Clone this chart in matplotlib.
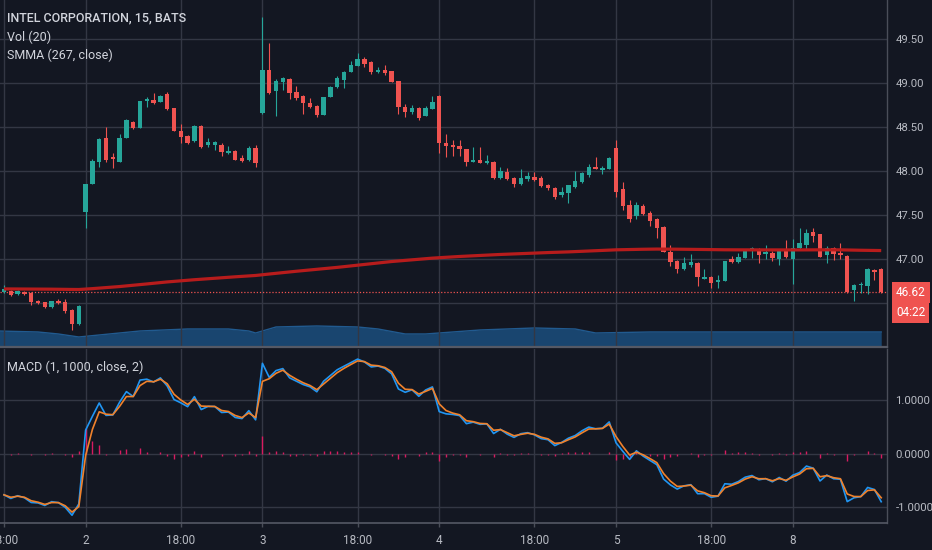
import numpy as np
import matplotlib
matplotlib.use('Agg')
import matplotlib.pyplot as plt
from matplotlib import transforms

plt.rcParams['font.family'] = ['Roboto', 'DejaVu Sans']

# ---------------- data (15-min bars, INTC) ----------------
opens = [46.63, 46.64, 46.60, 46.61, 46.61, 46.52, 46.51, 46.45, 46.52, 46.51, 46.42, 46.26,
         47.53, 47.85, 48.10, 48.38, 48.16, 48.10, 48.38, 48.56, 48.49, 48.80, 48.81, 48.78, 48.88,
         48.72, 48.45, 48.40, 48.34, 48.51, 48.30, 48.30, 48.30, 48.20, 48.23, 48.15, 48.13, 48.26,
         48.66, 49.15, 48.91, 49.01, 49.05, 48.90, 48.85, 48.77, 48.74, 48.64, 48.84, 48.95, 49.03,
         49.13, 49.19, 49.27, 49.24, 49.13, 49.15, 49.14, 49.02, 48.73, 48.67, 48.72, 48.63, 48.70,
         48.85, 48.32, 48.30, 48.28, 48.25, 48.10, 48.13, 48.09, 48.10, 47.92, 47.99, 47.92, 47.85,
         47.91, 47.93, 47.92, 47.84, 47.81, 47.73, 47.75, 47.82, 47.88, 47.95, 48.05, 48.01, 48.02,
         48.26, 47.80, 47.61, 47.49, 47.60, 47.52, 47.45, 47.36, 47.08, 46.98, 46.89, 46.93, 46.95,
         46.77, 46.80, 46.74, 46.75, 47.00, 46.97, 47.01, 47.10, 47.11, 47.06, 47.07, 47.00, 47.09,
         47.00, 47.13, 47.16, 47.31, 47.28, 47.05, 47.13, 47.07, 47.03, 46.65, 46.70, 46.69, 46.88, 46.89]
highs = [46.70, 46.65, 46.65, 46.64, 46.63, 46.53, 46.51, 46.52, 46.55, 46.55, 46.43, 46.48,
         47.85, 48.14, 48.38, 48.50, 48.20, 48.42, 48.59, 48.57, 48.80, 48.84, 48.89, 48.86, 48.90,
         48.72, 48.53, 48.41, 48.52, 48.52, 48.38, 48.34, 48.32, 48.28, 48.24, 48.18, 48.28, 48.30,
         49.75, 49.45, 49.05, 49.07, 49.06, 48.97, 48.86, 48.83, 48.75, 48.84, 48.97, 49.08, 49.14,
         49.25, 49.34, 49.30, 49.25, 49.18, 49.20, 49.14, 49.02, 48.76, 48.75, 48.73, 48.74, 48.85,
         48.86, 48.42, 48.35, 48.35, 48.25, 48.27, 48.27, 48.18, 48.11, 48.05, 48.03, 47.93, 48.02,
         47.99, 47.99, 47.94, 47.85, 47.82, 47.82, 47.84, 48.00, 47.99, 48.08, 48.16, 48.06, 48.16,
         48.35, 47.88, 47.67, 47.65, 47.63, 47.55, 47.47, 47.38, 47.16, 46.99, 47.02, 47.06, 46.97,
         46.89, 46.81, 46.82, 46.98, 47.03, 47.07, 47.10, 47.14, 47.13, 47.16, 47.09, 47.10, 47.22,
         47.23, 47.35, 47.34, 47.35, 47.28, 47.15, 47.14, 47.18, 47.05, 46.72, 46.74, 46.90, 46.89, 46.90]
lows = [46.61, 46.58, 46.59, 46.59, 46.48, 46.49, 46.44, 46.44, 46.49, 46.39, 46.19, 46.25,
        47.35, 47.85, 48.05, 48.10, 48.03, 48.10, 48.38, 48.48, 48.49, 48.73, 48.76, 48.78, 48.69,
        48.45, 48.32, 48.31, 48.33, 48.26, 48.27, 48.24, 48.17, 48.19, 48.13, 48.10, 48.11, 48.05,
        48.65, 48.88, 48.63, 48.92, 48.82, 48.81, 48.65, 48.72, 48.61, 48.64, 48.84, 48.94, 48.94,
        49.13, 49.19, 49.18, 49.10, 49.11, 49.09, 49.01, 48.65, 48.61, 48.65, 48.58, 48.63, 48.70,
        48.20, 48.16, 48.17, 48.17, 48.06, 48.10, 48.09, 48.08, 47.91, 47.91, 47.90, 47.82, 47.84,
        47.89, 47.89, 47.82, 47.78, 47.68, 47.70, 47.64, 47.81, 47.86, 47.93, 48.02, 47.97, 48.02,
        47.70, 47.56, 47.42, 47.45, 47.50, 47.38, 47.24, 47.08, 46.92, 46.84, 46.88, 46.91, 46.69,
        46.77, 46.67, 46.67, 46.75, 46.95, 46.95, 47.01, 47.01, 46.95, 47.00, 46.98, 46.93, 47.01,
        46.72, 47.11, 47.10, 47.19, 47.02, 46.95, 46.99, 47.00, 46.61, 46.52, 46.61, 46.60, 46.76, 46.61]
closes = [46.66, 46.59, 46.64, 46.60, 46.51, 46.50, 46.45, 46.52, 46.50, 46.41, 46.26, 46.47,
          47.85, 48.11, 48.36, 48.13, 48.14, 48.38, 48.58, 48.49, 48.80, 48.82, 48.77, 48.85, 48.70,
          48.45, 48.39, 48.32, 48.51, 48.27, 48.33, 48.33, 48.22, 48.23, 48.13, 48.11, 48.26, 48.09,
          49.15, 48.89, 49.02, 49.06, 48.89, 48.83, 48.77, 48.73, 48.64, 48.84, 48.95, 49.06, 49.13,
          49.20, 49.27, 49.22, 49.13, 49.15, 49.11, 49.01, 48.73, 48.67, 48.72, 48.60, 48.72, 48.78,
          48.32, 48.28, 48.27, 48.25, 48.10, 48.13, 48.09, 48.10, 47.92, 48.00, 47.91, 47.85, 47.92,
          47.94, 47.90, 47.83, 47.81, 47.70, 47.76, 47.84, 47.89, 47.98, 48.05, 48.02, 48.03, 48.15,
          47.76, 47.60, 47.45, 47.61, 47.51, 47.43, 47.35, 47.08, 46.97, 46.89, 46.95, 46.97, 46.80,
          46.80, 46.73, 46.75, 46.98, 46.97, 47.02, 47.10, 47.13, 47.05, 47.07, 47.01, 47.09, 47.02,
          47.13, 47.18, 47.30, 47.26, 47.02, 47.13, 47.06, 47.05, 46.63, 46.70, 46.72, 46.89, 46.85, 46.62]

# session boundaries / time-axis ticks (bar index)
tick_bars = [0, 12, 26, 38, 52, 64, 78, 90, 104, 116]
tick_labels = ['18:00', '2', '18:00', '3', '18:00', '4', '18:00', '5', '18:00', '8']

# Vol (20) moving average, thousands of shares (sampled at bar index)
vol_bars = [-1, 5, 8, 11, 14, 20, 27, 33, 36, 37, 40, 46, 52, 55, 59, 62, 64, 70, 78, 84, 87, 95, 129]
vol_ma = [96, 90, 78, 60, 72, 96, 108, 108, 96, 84, 120, 126, 120, 108, 78, 78, 84, 102, 114, 108, 84, 90, 90]

# indicator settings and seed values (at the left edge)
SMMA_LEN = 267
smma_seed = 46.66
MACD_FAST, MACD_SLOW, MACD_SIG = 1, 1000, 2
slow_ema_seed = 47.43

price_ticks = [46.5, 47.0, 47.5, 48.0, 48.5, 49.0, 49.5]
price_tick_labels = ['', '47.00', '47.50', '48.00', '48.50', '49.00', '49.50']
macd_ticks = [-1.0, 0.0, 1.0]
countdown = '04:22'

# ---------------- styles ----------------
BG = '#131722'
GRID = '#333744'
BORDER = '#4a4e59'
TXT = '#b8bbc3'
TITLE = '#d1d4dc'
GREEN = '#26a69a'
RED = '#ef5350'
SMMA_C = '#b71c1c'
BLUE = '#2196f3'
ORANGE = '#f0822c'
HIST_C = '#d81b60'
VOL_FILL = '#19456f'
VOL_EDGE = '#215a8f'

o = np.array(opens)
h = np.array(highs)
l = np.array(lows)
c = np.array(closes)
n = len(c)
idx = np.arange(n)

# indicators
smma = np.empty(n)
prev = smma_seed
for k in range(n):
    prev = (prev * (SMMA_LEN - 1) + c[k]) / SMMA_LEN
    smma[k] = prev

a_slow = 2.0 / (MACD_SLOW + 1)
ema = slow_ema_seed
macd = np.empty(n)
for k in range(n):
    ema = ema + a_slow * (c[k] - ema)
    macd[k] = c[k] - ema
a_sig = 2.0 / (MACD_SIG + 1)
sig = np.empty(n)
s = macd[0]
for k in range(n):
    s = s + a_sig * (macd[k] - s)
    sig[k] = s
hist = macd - sig

# ---------------- figure ----------------
W, H = 932, 550
fig = plt.figure(figsize=(W / 100, H / 100), dpi=100, facecolor=BG)
ax = fig.add_axes([0, 203 / H, 887 / W, 347 / H])
axm = fig.add_axes([0, 27 / H, 887 / W, 174 / H], sharex=ax)
axv = ax.twinx()

for a_ in (ax, axm):
    a_.set_facecolor(BG)
    for sp in a_.spines.values():
        sp.set_visible(False)

ax.set_zorder(axv.get_zorder() + 1)
ax.patch.set_visible(False)
axv.set_facecolor(BG)
axv.patch.set_visible(True)
for sp in axv.spines.values():
    sp.set_visible(False)
axv.set_yticks([])
axv.tick_params(right=False, labelright=False)

xmin, xmax = -0.59, 129.85
ax.set_xlim(xmin, xmax)
ax.set_ylim(46.0, 49.943)
axm.set_ylim(-1.295, 1.957)
axv.set_ylim(0, 2080)

# volume MA area
axv.fill_between(vol_bars, vol_ma, 0, color=VOL_FILL, lw=0)
axv.plot(vol_bars, vol_ma, color=VOL_EDGE, lw=1)

# grid
ax.set_yticks(price_ticks)
ax.set_yticklabels(price_tick_labels)
axm.set_yticks(macd_ticks)
axm.set_yticklabels([f'{t:.4f}' for t in macd_ticks])
axm.set_xticks(tick_bars)
axm.set_xticklabels(tick_labels)
for a_ in (ax, axm):
    a_.grid(True, color=GRID, lw=1)
    a_.set_axisbelow(True)
    a_.yaxis.tick_right()
    a_.tick_params(axis='y', length=0, pad=6, colors=TXT, labelsize=8.2)
ax.tick_params(axis='x', bottom=False, labelbottom=False)
axm.tick_params(axis='x', length=3, width=1, color=BORDER, pad=5, colors=TXT, labelsize=8.5)

# candles
col = np.where(c >= o, GREEN, RED)
ax.vlines(idx, l, h, colors=col, lw=0.8, zorder=3)
bottoms = np.minimum(o, c)
heights = np.maximum(np.abs(c - o), 0.02)
ax.bar(idx, heights, bottom=bottoms, width=0.66, color=col, lw=0, zorder=4)

# SMMA
ax.plot(idx, smma, color=SMMA_C, lw=2.3, zorder=5, solid_capstyle='butt')

# last price line
last = c[-1]
ax.axhline(last, color=RED, lw=0.9, ls=(0, (1, 1.5)), zorder=2)

# MACD
axm.vlines(idx, 0, hist, colors=HIST_C, lw=1, zorder=2)
axm.plot(idx, macd, color=BLUE, lw=1.2, zorder=3)
axm.plot(idx, sig, color=ORANGE, lw=1.2, zorder=4)

# borders
ax.axvline(xmax, color=BORDER, lw=1, clip_on=False, zorder=6)
axm.axvline(xmax, color=BORDER, lw=1, clip_on=False, zorder=6)
ax.axhline(46.0, color='#555965', lw=1.6, clip_on=False, zorder=6)
axm.axhline(-1.295, color='#555965', lw=1.2, clip_on=False, zorder=6)

# price label boxes
trans = transforms.blended_transform_factory(ax.transAxes, ax.transData)
ax.text(1.0 + 9 / 887, last, f'{last:.2f}', transform=trans, ha='left', va='center',
        color='white', fontsize=8.5, clip_on=False, zorder=10,
        bbox=dict(boxstyle='square,pad=0.32', fc=RED, ec='none'))
trans2 = transforms.offset_copy(trans, fig=fig, x=0, y=-20, units='dots')
ax.text(1.0 + 9 / 887, last, countdown, transform=trans2, ha='left', va='center',
        color='white', fontsize=8.5, clip_on=False, zorder=10,
        bbox=dict(boxstyle='square,pad=0.32', fc=RED, ec='none'))

# legends / titles
ax.text(7 / 887, 1 - 18 / 347, 'INTEL CORPORATION, 15, BATS', transform=ax.transAxes,
        ha='left', va='center', color=TITLE, fontsize=9, fontweight='medium', zorder=10)
ax.text(7 / 887, 1 - 37 / 347, 'Vol (20)', transform=ax.transAxes,
        ha='left', va='center', color=TITLE, fontsize=9, zorder=10)
ax.text(7 / 887, 1 - 55 / 347, 'SMMA (267, close)', transform=ax.transAxes,
        ha='left', va='center', color=TITLE, fontsize=9, zorder=10)
axm.text(7 / 887, 1 - 18 / 174, 'MACD (1, 1000, close, 2)', transform=axm.transAxes,
         ha='left', va='center', color=TITLE, fontsize=9, zorder=10)

fig.savefig('out.png', dpi=100, facecolor=BG)
